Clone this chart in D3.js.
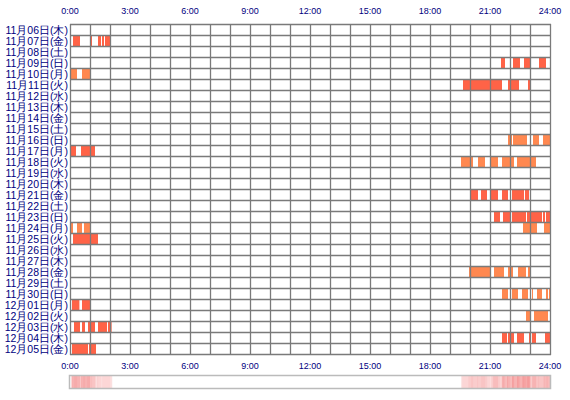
<!DOCTYPE html>
<html><head><meta charset="utf-8">
<script src="https://cdn.jsdelivr.net/npm/d3@7"></script>
<style>body{margin:0;background:#fff}</style></head>
<body><svg id="c" width="570" height="400"></svg>
<script>
const days = ["11月06日(木)","11月07日(金)","11月08日(土)","11月09日(日)","11月10日(月)","11月11日(火)","11月12日(水)","11月13日(木)","11月14日(金)","11月15日(土)","11月16日(日)","11月17日(月)","11月18日(火)","11月19日(水)","11月20日(木)","11月21日(金)","11月22日(土)","11月23日(日)","11月24日(月)","11月25日(火)","11月26日(水)","11月27日(木)","11月28日(金)","11月29日(土)","11月30日(日)","12月01日(月)","12月02日(火)","12月03日(水)","12月04日(木)","12月05日(金)"];
const hourTicks = [0,3,6,9,12,15,18,21,24];
const tickLabels = ["0:00","3:00","6:00","9:00","12:00","15:00","18:00","21:00","24:00"];
const lightDays = ["11月10日(月)","11月16日(日)","11月18日(火)","11月24日(月)","11月28日(金)","11月30日(日)","12月02日(火)"];
// sessions: [day, startHour, endHour]
const sessions = [
["11月07日(金)",0.15,0.5],["11月07日(金)",1.05,1.1],["11月07日(金)",1.4,1.55],["11月07日(金)",1.6,1.7],["11月07日(金)",1.75,2.0],
["11月09日(日)",21.55,21.75],["11月09日(日)",22.15,22.5],["11月09日(日)",22.7,23.05],["11月09日(日)",23.45,23.8],
["11月10日(月)",0.05,0.35],["11月10日(月)",0.6,1.0],
["11月11日(火)",19.65,21.6],["11月11日(火)",21.9,22.45],["11月11日(火)",22.9,23.0],
["11月16日(日)",21.9,22.1],["11月16日(日)",22.15,22.85],["11月16日(日)",23.15,23.45],["11月16日(日)",23.65,24],
["11月17日(月)",0.05,0.3],["11月17日(月)",0.55,1.25],
["11月18日(火)",19.55,20.15],["11月18日(火)",20.4,20.75],["11月18日(火)",21.05,21.4],["11月18日(火)",21.6,22.2],["11月18日(火)",22.35,23.3],
["11月21日(金)",20.05,20.4],["11月21日(金)",20.55,20.85],["11月21日(金)",21.05,21.4],["11月21日(金)",21.6,21.9],["11月21日(金)",22.1,22.7],["11月21日(金)",22.75,22.95],
["11月23日(日)",21.2,21.5],["11月23日(日)",21.65,22.05],["11月23日(日)",22.1,22.8],["11月23日(日)",22.85,23.6],["11月23日(日)",23.65,23.75],["11月23日(日)",23.8,24],
["11月24日(月)",0.05,0.15],["11月24日(月)",0.35,0.6],["11月24日(月)",0.7,1.0],
["11月24日(月)",22.65,23.0],["11月24日(月)",23.05,23.35],["11月24日(月)",23.7,24],
["11月25日(火)",0.15,1.4],
["11月28日(金)",19.95,21.0],["11月28日(金)",21.2,21.7],["11月28日(金)",21.9,22.0],["11月28日(金)",22.05,22.15],["11月28日(金)",22.4,22.8],["11月28日(金)",22.9,23.0],
["11月30日(日)",21.6,21.9],["11月30日(日)",22.1,22.4],["11月30日(日)",22.6,22.9],["11月30日(日)",23.1,23.15],["11月30日(日)",23.35,23.6],["11月30日(日)",23.8,23.9],["11月30日(日)",23.95,24],
["12月01日(月)",0.1,0.47],["12月01日(月)",0.6,1.0],
["12月02日(火)",22.8,23.0],["12月02日(火)",23.2,23.9],
["12月03日(水)",0.2,0.5],["12月03日(水)",0.6,0.75],["12月03日(水)",0.9,1.25],["12月03日(水)",1.4,1.85],["12月03日(水)",1.9,2.08],
["12月04日(木)",21.6,21.85],["12月04日(木)",21.9,22.2],["12月04日(木)",22.35,22.7],["12月04日(木)",22.95,23.05],["12月04日(木)",23.1,23.3],["12月04日(木)",23.75,24],
["12月05日(金)",0.1,0.9],["12月05日(金)",0.95,1.3]
];

const svg = d3.select("#c");
const L=70,R=550,T=24,B=354;
const x = d3.scaleLinear().domain([0,24]).range([L,R]);
const y = d3.scaleBand().domain(days).range([T,B]);
const font = "'Liberation Sans', Arial, sans-serif";

svg.append("g").selectAll("rect").data(sessions).join("rect")
  .attr("x",d=>x(d[1])).attr("width",d=>Math.max(1,x(d[2])-x(d[1])))
  .attr("y",d=>y(d[0])+1).attr("height",y.bandwidth()-1)
  .attr("fill",d=>lightDays.includes(d[0])?"#ff8850":"#ff6347");

const g = svg.append("g").attr("stroke","#7a7a7a").attr("stroke-width",1.3);
d3.range(0,25).forEach(h=>g.append("line").attr("x1",x(h)+0.5).attr("x2",x(h)+0.5).attr("y1",T).attr("y2",B+1));
days.forEach(d=>g.append("line").attr("x1",L).attr("x2",R+1).attr("y1",y(d)+0.5).attr("y2",y(d)+0.5));
g.append("line").attr("x1",L).attr("x2",R+1).attr("y1",B+0.5).attr("y2",B+0.5);

svg.append("g").selectAll("text").data(days).join("text")
  .attr("x",L-2).attr("y",d=>y(d)+y.bandwidth()/2+4).attr("text-anchor","end")
  .attr("font-family",font).attr("font-size",10.5).attr("fill","#000080").text(d=>d);

[14,369].forEach(yy=>svg.append("g").selectAll("text").data(hourTicks).join("text")
  .attr("x",d=>x(d)).attr("y",yy).attr("text-anchor","middle")
  .attr("font-family",font).attr("font-size",9).attr("fill","#000080").text((d,i)=>tickLabels[i]));

// heat strip
const bins = d3.range(0,24,0.05);
const cnt = bins.map(b=>sessions.filter(s=>s[1]<b+0.05&&s[2]>b).length);
const op = d3.scaleLinear().domain([0,d3.max(cnt)]).range([0,0.5]);
svg.append("g").selectAll("rect").data(bins).join("rect")
  .attr("x",b=>x(b)).attr("width",x(0.05)-x(0)+0.3).attr("y",376).attr("height",12)
  .attr("fill","#f07070").attr("fill-opacity",(b,i)=>cnt[i]?0.12+op(cnt[i]):0);
svg.append("rect").attr("x",L-0.5).attr("y",375.5).attr("width",R-L+1).attr("height",13)
  .attr("fill","none").attr("stroke","#bbbbbb").attr("stroke-width",1.5);
</script></body></html>
